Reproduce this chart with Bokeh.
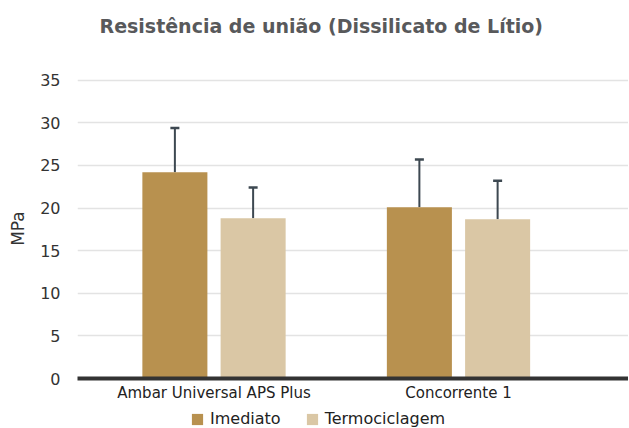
from bokeh.plotting import figure
from bokeh.layouts import column
from bokeh.models import (Range1d, FixedTicker, Whisker, ColumnDataSource,
                          Legend, LegendItem, TeeHead)
from bokeh.embed import file_html
from bokeh.resources import INLINE

# ---- data ----
categories = ["Ambar Universal APS Plus", "Concorrente 1"]
series_names = ["Imediato", "Termociclagem"]
imediato = [24.2, 20.1]
imediato_err = [5.2, 5.6]
termociclagem = [18.8, 18.7]
termociclagem_err = [3.6, 4.5]
y_ticks = [0, 5, 10, 15, 20, 25, 30, 35]
title_text = "Resistência de união (Dissilicato de Lítio)"
y_label = "MPa"

colors = ["#b8914f", "#dac7a5"]
err_color = "#3d4851"
FONT = "DejaVu Sans"
W = 628
LEFT = 77


def bare(height):
    f = figure(width=W, height=height, output_backend="svg", toolbar_location=None,
               x_axis_location=None, y_axis_location=None,
               x_range=Range1d(0, 1), y_range=Range1d(0, 1),
               min_border_left=0, min_border_right=0, min_border_top=0,
               min_border_bottom=0)
    f.grid.visible = False
    f.outline_line_color = None
    return f


# ---- title strip ----
tf = bare(50)
tf.title.text = title_text
tf.title.align = "left"
tf.title.offset = 22
tf.title.standoff = 24
tf.title.text_font = FONT
tf.title.text_font_size = "19px"
tf.title.text_font_style = "bold"
tf.title.text_color = "#58595b"

# ---- main chart ----
p = figure(width=W, height=355, output_backend="svg", toolbar_location=None,
           x_range=Range1d(-0.5583, 1.6953), y_range=Range1d(0, 35.2),
           min_border_left=LEFT, min_border_right=0, min_border_top=28,
           min_border_bottom=27)
p.outline_line_color = None

offset = 0.16
bar_w = 0.266
idx = list(range(len(categories)))
series = [(imediato, imediato_err), (termociclagem, termociclagem_err)]
sources = []
for k, (vals, errs) in enumerate(series):
    xs = [i + (k * 2 - 1) * offset for i in idx]
    src = ColumnDataSource(dict(x=xs, top=vals, upper=[v + e for v, e in zip(vals, errs)]))
    sources.append(src)
    p.vbar(x="x", top="top", width=bar_w, bottom=0, source=src,
           fill_color=colors[k], line_color=None)
    w = Whisker(source=src, base="x", lower="top", upper="upper",
                line_color=err_color, line_width=2, lower_head=None,
                upper_head=TeeHead(size=9, line_color=err_color, line_width=2.5))
    p.add_layout(w)

p.xgrid.grid_line_color = None
p.ygrid.ticker = FixedTicker(ticks=y_ticks)
p.ygrid.grid_line_color = "#e3e3e3"
p.ygrid.grid_line_width = 1.3

p.yaxis.ticker = FixedTicker(ticks=y_ticks)
p.yaxis.axis_line_color = None
p.yaxis.major_tick_line_color = None
p.yaxis.minor_tick_line_color = None
p.yaxis.major_tick_out = 0
p.yaxis.major_label_standoff = 17
p.yaxis.major_label_text_font = FONT
p.yaxis.major_label_text_font_size = "16px"
p.yaxis.major_label_text_color = "#333333"
p.yaxis.axis_label = y_label
p.yaxis.axis_label_text_font = FONT
p.yaxis.axis_label_text_font_size = "17px"
p.yaxis.axis_label_text_font_style = "normal"
p.yaxis.axis_label_text_color = "#333333"
p.yaxis.axis_label_standoff = 9

p.xaxis.ticker = FixedTicker(ticks=idx)
p.xaxis.major_label_overrides = {i: c for i, c in zip(idx, categories)}
p.xaxis.axis_line_color = "#333333"
p.xaxis.axis_line_width = 4
p.xaxis.major_tick_line_color = None
p.xaxis.minor_tick_line_color = None
p.xaxis.major_tick_out = 0
p.xaxis.major_label_standoff = 5
p.xaxis.major_label_text_font = FONT
p.xaxis.major_label_text_font_size = "15px"
p.xaxis.major_label_text_color = "#222222"

# ---- legend strip ----
lg = bare(23)
# series bars placed far out of view; they serve only as legend swatches
lg.x_range = Range1d(100, 101)
lg.y_range = Range1d(100, 101)
lg_renderers = [lg.vbar(x="x", top="top", width=bar_w, bottom=0, source=src,
                        fill_color=c, line_color=None)
                for src, c in zip(sources, colors)]
legend = Legend(items=[LegendItem(label=n, renderers=[r]) for n, r in zip(series_names, lg_renderers)],
                orientation="horizontal", location=(113, 0), margin=0, padding=0,
                spacing=24, glyph_width=14, glyph_height=14, label_standoff=6,
                label_height=14, label_text_font=FONT, label_text_font_size="16px",
                label_text_color="#222222", border_line_color=None,
                background_fill_alpha=0)
lg.add_layout(legend, "center")

open("out.html", "w").write(file_html(column(tf, p, lg, spacing=0), INLINE))
